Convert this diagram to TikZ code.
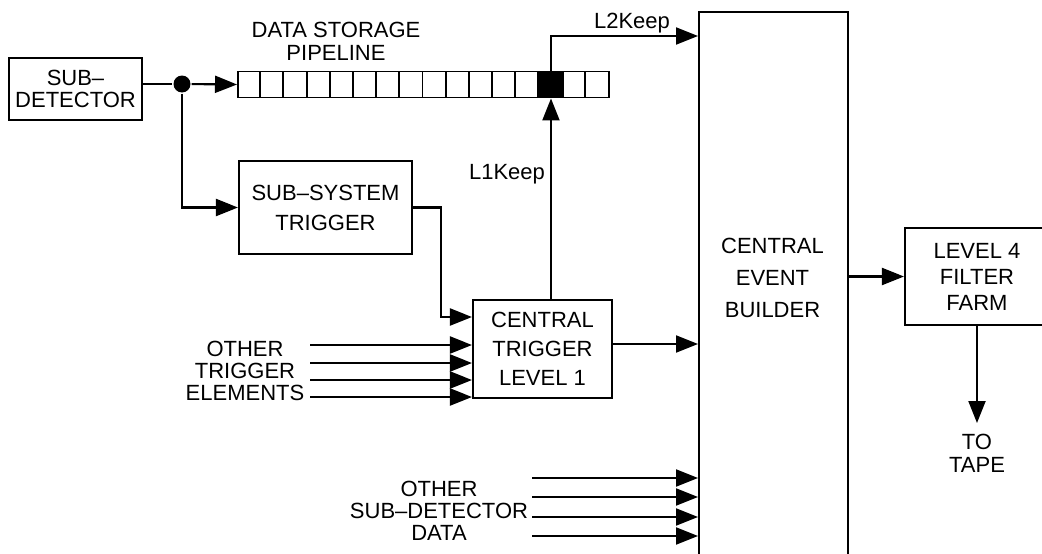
\documentclass[tikz,border=0pt]{standalone}
\usepackage{fontspec}
\setmainfont{Liberation Sans}
\usetikzlibrary{arrows.meta}
\begin{document}
\begin{tikzpicture}[x=1pt,y=-1pt,
  line width=2.1pt,
  box/.style={draw, inner sep=0pt, align=center, font=\fontsize{22}{22}\selectfont},
  lbl/.style={inner sep=0pt, align=center, font=\fontsize{22}{22}\selectfont},
  arr/.style={-{Triangle[length=22pt,width=17pt]}},
  thin/.style={line width=1.9pt}]
\useasboundingbox (0,0) rectangle (1042,554);
\clip (0,0) rectangle (1042,554);

% boxes
\node[box, minimum width=133pt, minimum height=62pt] (subdet) at (75.5,89) {SUB–\\DETECTOR};
\node[box, minimum width=173pt, minimum height=93pt, font=\fontsize{22}{30}\selectfont] (sst) at (325.5,207.5) {SUB–SYSTEM\\TRIGGER};
\node[box, minimum width=139pt, minimum height=98pt, font=\fontsize{22}{29}\selectfont] (ct) at (542.5,349) {CENTRAL\\TRIGGER\\LEVEL 1};
\node[box, minimum width=149pt, minimum height=570pt, anchor=north west] (ceb) at (698,11) {};
\node[lbl, font=\fontsize{22}{32}\selectfont] (cebtxt) at (772.5,278) {CENTRAL\\EVENT\\BUILDER};
\node[box, minimum width=144pt, minimum height=97pt, font=\fontsize{22}{26}\selectfont] (l4) at (977,276.5) {LEVEL 4\\FILTER\\FARM};

% labels
\node[lbl, font=\fontsize{22}{23}\selectfont] (tape) at (977,453.5) {TO\\TAPE};
\node[lbl, font=\fontsize{22}{23}\selectfont] (dsp) at (336,41.5) {DATA STORAGE\\PIPELINE};
\node[lbl] (ote) at (245,371) {OTHER\\TRIGGER\\ELEMENTS};
\node[lbl] (osd) at (439,511) {OTHER\\SUB–DETECTOR\\DATA};
\node[lbl, anchor=base east] (l1) at (546,179) {L1Keep};
\node[lbl, anchor=base west] (l2) at (593,28) {L2Keep};

% pipeline
\node[draw, thin, minimum width=371pt, minimum height=26pt, inner sep=0pt, anchor=west] (pipe) at (237,84.5) {};
\foreach \i in {1,...,15} \draw[thin] ({237+\i*23.1875},71.5) -- ++(0,26);
\node[draw, thin, fill=black, minimum width=23.1875pt, minimum height=26pt, inner sep=0pt, anchor=west] (blk) at ({237+13*23.1875},84.5) {};

% junction
\node[circle, fill=black, inner sep=0pt, minimum size=17pt] (j) at (182,84) {};

% connectors
\draw (subdet.east |- j) -- (j);
\draw[arr] (j) -- (pipe.west);
\draw[arr] (j) |- (sst.west);
\coordinate (b1) at (441,317);
\draw[arr] (sst.east) -| (b1) -- (b1 -| ct.west);
\foreach \yy [count=\k] in {345,363,380,397} {
  \coordinate (ot\k) at (310,\yy);
  \draw[arr] (ot\k) -- (ot\k -| ct.west);
}
\coordinate (c1) at (612,344);
\draw[arr] (c1) -- (c1 -| ceb.west);
\draw[arr] (ct.north -| blk) -- (blk.south);
\coordinate (c2) at (600,36);
\draw[arr] (blk.north) |- (c2 -| ceb.west);
\foreach \yy [count=\k] in {478,497,517,536} {
  \coordinate (os\k) at (532,\yy);
  \draw[arr] (os\k) -- (os\k -| ceb.west);
}
\draw[arr] (ceb.east |- l4.west) -- (l4.west);
\coordinate (tp) at (977,423);
\draw[arr] (l4.south) -- (tp);
\end{tikzpicture}
\end{document}
